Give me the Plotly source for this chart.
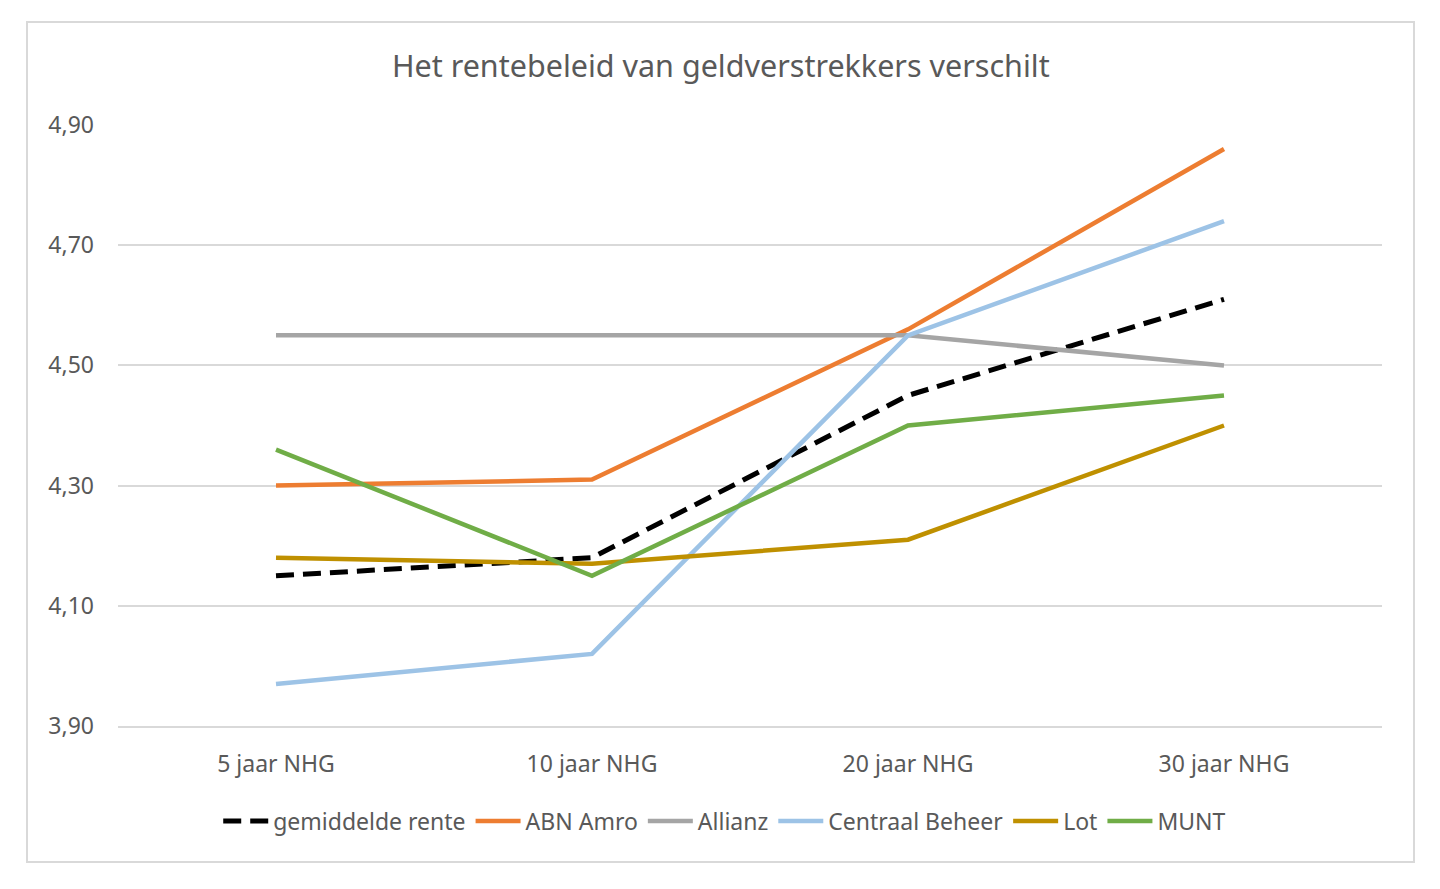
import plotly.graph_objects as go

# -------------------------
# Daten
# -------------------------
looptijden = ["5 jaar NHG", "10 jaar NHG", "20 jaar NHG", "30 jaar NHG"]

gemiddelde = [4.15, 4.18, 4.45, 4.61]
abn_amro = [4.30, 4.31, 4.56, 4.86]
allianz = [4.55, 4.55, 4.55, 4.50]
centraal_beheer = [3.97, 4.02, 4.55, 4.74]
lot = [4.18, 4.17, 4.21, 4.40]
munt = [4.36, 4.15, 4.40, 4.45]

y_ticks = [3.90, 4.10, 4.30, 4.50, 4.70, 4.90]

series = [
    ("gemiddelde rente", gemiddelde, "#000000", "18px,9px", 5),
    ("ABN Amro", abn_amro, "#ED7D31", "solid", 4.5),
    ("Allianz", allianz, "#A5A5A5", "solid", 4.5),
    ("Centraal Beheer", centraal_beheer, "#9DC3E6", "solid", 4.5),
    ("Lot", lot, "#BF9000", "solid", 4.5),
    ("MUNT", munt, "#70AD47", "solid", 4.5),
]

FONT = "Noto Sans"
GREY = "#595959"

fig = go.Figure()
for name, vals, col, dash, lw in series:
    fig.add_trace(go.Scatter(
        x=looptijden, y=vals, name=name, mode="lines",
        line=dict(color=col, width=lw, dash=dash),
    ))

# Seite hat 8px Rand -> Ränder entsprechend verschoben
fig.update_layout(
    width=1440, height=889,
    margin=dict(l=110, r=66, t=117, b=171),
    paper_bgcolor="white", plot_bgcolor="white",
    separators=",.",
    font=dict(family=FONT, color=GREY, size=23),
    title=dict(text="Het rentebeleid van geldverstrekkers verschilt",
               x=0.495, xanchor="center", y=0.934, yanchor="middle",
               font=dict(size=30.5, color=GREY)),
    showlegend=True,
    legend=dict(orientation="h", x=0.48, xanchor="center", y=-0.158,
                yanchor="middle", font=dict(size=23, color=GREY),
                itemwidth=45, traceorder="normal"),
)

fig.update_xaxes(range=[-0.5, 3.5], showgrid=False, showline=True,
                 linecolor="#D9D9D9", linewidth=1.5, ticks="",
                 ticklabelstandoff=17,
                 tickfont=dict(size=23, color=GREY))
fig.update_yaxes(range=[3.90, 4.90], tickvals=y_ticks, tickformat=".2f",
                 showgrid=True, gridcolor="#D9D9D9", gridwidth=1.5,
                 zeroline=False, showline=False, ticks="", ticklabelstandoff=23,
                 tickfont=dict(size=23, color=GREY))

# Rahmen um das ganze Diagramm (wie in Excel)
fig.add_shape(type="rect", xref="paper", yref="paper",
              x0=(27 - 118) / 1264, x1=(1414 - 118) / 1264,
              y0=(726 - 862) / 601, y1=(726 - 22) / 601,
              line=dict(color="#D9D9D9", width=2), layer="below")

fig.write_html("out.html")
